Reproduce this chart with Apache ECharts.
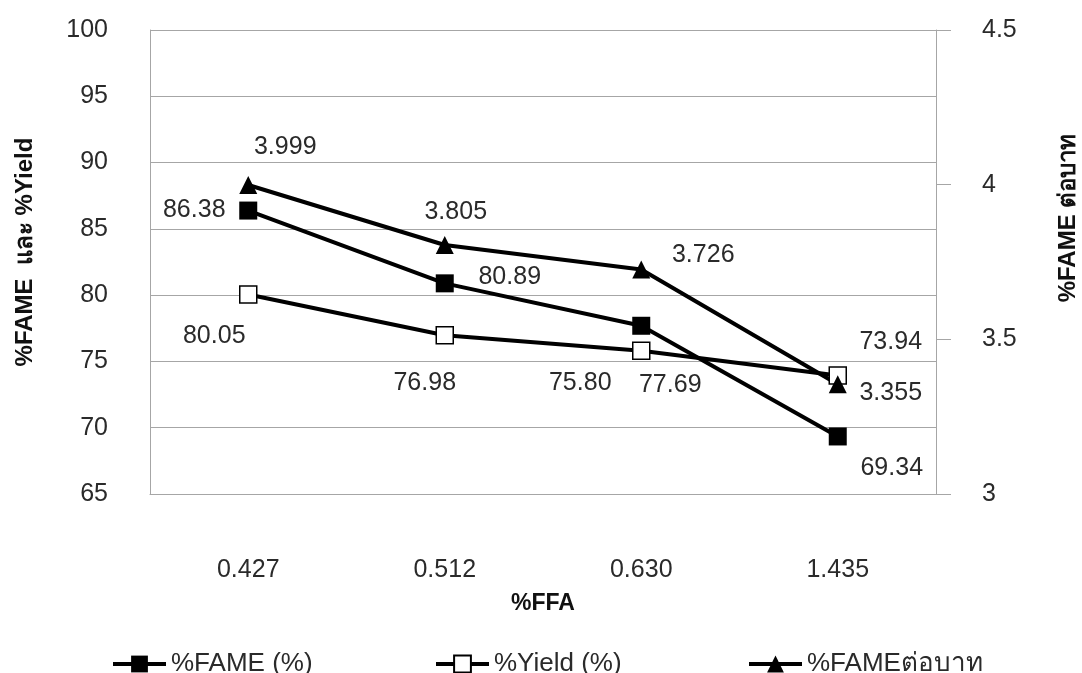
<!DOCTYPE html>
<html>
<head>
<meta charset="utf-8">
<script src="https://cdn.jsdelivr.net/npm/echarts@6/dist/echarts.min.js"></script>
<style>
  html, body { margin: 0; padding: 0; background: #fff; }
  #chart { width: 1082px; height: 673px; }
</style>
</head>
<body>
<div id="chart"></div>
<script>
// %FFA categories
const categories = ['0.427', '0.512', '0.630', '1.435'];
// %FAME (%) and %Yield (%) on the left axis
const fameValues = [86.38, 80.89, 77.69, 69.34];
const yieldValues = [80.05, 76.98, 75.80, 73.94];
// %FAME per baht on the right axis
const famePerBaht = [3.999, 3.805, 3.726, 3.355];

const seriesNames = ['%FAME (%)', '%Yield (%)', '%FAMEต่อบาท'];

// label placement around each marker (px offsets from marker centre)
const fameLabelOffsets = [[-54, 0], [65, -6], [29, 59], [54, 32]];
const yieldLabelOffsets = [[-34, 42], [-20, 48], [-61, 32], [53, -33]];
const perBahtLabelOffsets = [[37, -38], [11, -33], [62, -14], [53, 9]];

// left edge of each legend entry
const legendLefts = [111, 434, 747];

const FONT = 'Liberation Sans, Arial, Noto Sans, DejaVu Sans, sans-serif';
const TEXT = '#2a2a2a';
const GRID = '#a6a6a6';

function withLabels(values, offsets, digits) {
  return values.map((v, i) => ({
    value: v,
    label: {
      show: true,
      position: 'inside',
      offset: offsets[i],
      formatter: v.toFixed(digits),
      fontSize: 25,
      fontFamily: FONT,
      color: TEXT
    }
  }));
}

const legends = seriesNames.map((name, i) => ({
  left: legendLefts[i],
  top: 651,
  padding: 0,
  itemWidth: 53,
  itemHeight: 21,
  lineStyle: { width: 4 },
  textStyle: { fontSize: 26, fontFamily: FONT, color: TEXT },
  data: [name]
}));

const chart = echarts.init(document.getElementById('chart'));
chart.setOption({
  animation: false,
  backgroundColor: '#fff',
  grid: { left: 150, right: 146, top: 30, bottom: 179, outerBoundsMode: 'none', containLabel: false },
  legend: legends,
  xAxis: {
    type: 'category',
    data: categories,
    boundaryGap: true,
    axisLine: { show: true, lineStyle: { color: GRID, width: 1 } },
    axisTick: { show: false },
    axisLabel: { margin: 64, fontSize: 25, fontFamily: FONT, color: TEXT },
    name: '%FFA',
    nameLocation: 'middle',
    nameGap: 98,
    nameTextStyle: { fontSize: 23, fontWeight: 'bold', fontFamily: FONT, color: '#111' }
  },
  yAxis: [
    {
      type: 'value',
      min: 65,
      max: 100,
      interval: 5,
      axisLine: { show: true, lineStyle: { color: GRID, width: 1 } },
      axisTick: { show: false },
      axisLabel: { margin: 42, fontSize: 25, fontFamily: FONT, color: TEXT },
      splitLine: { show: true, lineStyle: { color: GRID, width: 1 } },
      name: '%FAME  และ %Yield',
      nameLocation: 'middle',
      nameGap: 113,
      nameTextStyle: { fontSize: 24, fontWeight: 'bold', fontFamily: FONT, color: '#111', padding: [0, 0, 0, 20] }
    },
    {
      type: 'value',
      position: 'right',
      min: 3,
      max: 4.5,
      interval: 0.5,
      axisLine: { show: true, lineStyle: { color: GRID, width: 1 } },
      axisTick: { show: true, inside: false, length: 15, lineStyle: { color: GRID, width: 1 } },
      axisLabel: { margin: 46, fontSize: 25, fontFamily: FONT, color: TEXT },
      splitLine: { show: false },
      name: '%FAME ต่อบาท',
      nameLocation: 'middle',
      nameGap: 120,
      nameTextStyle: { fontSize: 24, fontWeight: 'bold', fontFamily: FONT, color: '#111', padding: [0, 0, 0, 88] }
    }
  ],
  series: [
    {
      name: seriesNames[0],
      type: 'line',
      yAxisIndex: 0,
      data: withLabels(fameValues, fameLabelOffsets, 2),
      symbol: 'rect',
      symbolSize: 18,
      lineStyle: { color: '#000', width: 4 },
      itemStyle: { color: '#000' }
    },
    {
      name: seriesNames[1],
      type: 'line',
      yAxisIndex: 0,
      data: withLabels(yieldValues, yieldLabelOffsets, 2),
      symbol: 'rect',
      symbolSize: 17,
      lineStyle: { color: '#000', width: 4 },
      itemStyle: { color: '#fff', borderColor: '#000', borderWidth: 1.5 }
    },
    {
      name: seriesNames[2],
      type: 'line',
      yAxisIndex: 1,
      data: withLabels(famePerBaht, perBahtLabelOffsets, 3),
      symbol: 'triangle',
      symbolSize: 18,
      lineStyle: { color: '#000', width: 4 },
      itemStyle: { color: '#000' }
    }
  ]
});
</script>
</body>
</html>
